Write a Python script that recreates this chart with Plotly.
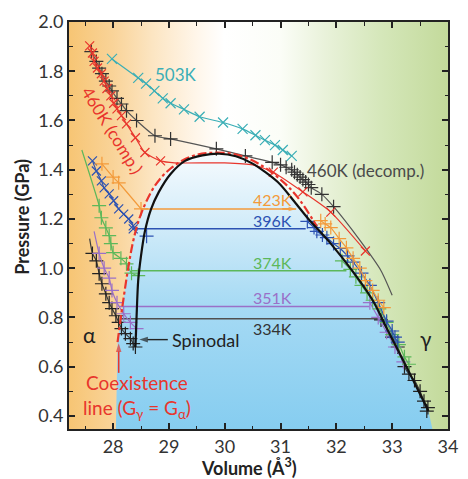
import plotly.graph_objects as go

# ---- axes ----
x_range = [27.21, 34.0]
y_range = [0.347, 2.0]
x_ticks = [28, 29, 30, 31, 32, 33, 34]
y_ticks = [0.4, 0.6, 0.8, 1.0, 1.2, 1.4, 1.6, 1.8, 2.0]

# ---- spinodal dome ----
v_spin = [28.40, 28.42, 28.45, 28.50, 28.57, 28.68, 28.82, 29.03, 29.29, 29.60, 29.90,
          30.20, 30.50, 30.95, 31.25, 31.50, 31.90, 32.30, 32.65, 32.95, 33.30, 33.65]
p_spin = [0.68, 0.80, 0.95, 1.05, 1.15, 1.24, 1.31, 1.383, 1.436, 1.458, 1.465,
          1.455, 1.425, 1.35, 1.27, 1.20, 1.10, 0.985, 0.87, 0.735, 0.58, 0.42]

# ---- coexistence line ----
v_coex = [28.08, 28.17, 28.27, 28.37, 28.50, 28.75, 29.03, 29.38, 29.70, 30.20, 30.60, 31.00, 31.30, 31.65]
p_coex = [0.70, 0.85, 1.00, 1.12, 1.22, 1.335, 1.405, 1.452, 1.468, 1.462, 1.425, 1.36, 1.29, 1.17]

# ---- isotherms ----
v_503 = [27.98, 28.45, 28.59, 28.74, 28.89, 29.03, 29.27, 29.55, 29.97, 30.32, 30.55, 30.72, 30.90, 31.04, 31.20]
p_503 = [1.85, 1.773, 1.75, 1.72, 1.69, 1.67, 1.645, 1.615, 1.592, 1.566, 1.54, 1.52, 1.50, 1.48, 1.456]

v_460c = [27.58, 27.63, 27.66, 27.72, 27.79, 27.84, 27.89, 27.96, 28.01, 28.07, 28.15, 28.24,
          28.40, 28.57, 28.85, 30.87, 31.40, 31.90, 32.52]
p_460c = [1.903, 1.874, 1.84, 1.813, 1.79, 1.76, 1.73, 1.70, 1.67, 1.647, 1.62, 1.586,
          1.53, 1.47, 1.436, 1.39, 1.31, 1.228, 1.07]
v_460c_plateau = [29.10, 30.00, 30.50]
p_460c_plateau = [1.428, 1.428, 1.42]

v_460d = [27.61, 27.70, 27.75, 27.80, 27.87, 27.93, 27.98, 28.07, 28.15, 28.24, 28.42, 28.75,
          29.03, 29.85, 30.37, 30.85, 31.00, 31.10, 31.20, 31.25, 31.30, 31.35, 31.40, 31.45,
          31.50, 31.55, 31.74, 31.95]
p_460d = [1.88, 1.84, 1.813, 1.79, 1.76, 1.74, 1.72, 1.69, 1.667, 1.64, 1.60, 1.538,
          1.525, 1.485, 1.456, 1.43, 1.42, 1.41, 1.40, 1.39, 1.38, 1.37, 1.36, 1.35,
          1.34, 1.327, 1.30, 1.25]
v_460d_tail = [32.40, 32.80, 33.00]
p_460d_tail = [1.12, 0.99, 0.89]

v_423 = [27.80, 28.00, 28.10, 31.72, 31.80, 31.90, 32.05, 32.18, 32.30, 32.42, 32.52, 32.65, 32.75, 32.85]
p_423 = [1.424, 1.37, 1.347, 1.193, 1.18, 1.165, 1.12, 1.083, 1.04, 1.00, 0.95, 0.91, 0.87, 0.84]

v_396 = [27.63, 27.70, 27.79, 27.84, 27.93, 28.01, 28.10, 28.19, 28.28, 28.36,
         31.48, 31.60, 31.65, 31.75, 31.83, 31.95, 32.07, 32.20, 32.30, 32.45, 32.60, 32.75, 32.90, 33.00, 33.05, 33.10]
p_396 = [1.436, 1.395, 1.355, 1.326, 1.302, 1.274, 1.241, 1.22, 1.20, 1.172,
         1.19, 1.165, 1.15, 1.135, 1.124, 1.10, 1.08, 1.05, 1.025, 0.98, 0.93, 0.86, 0.785, 0.745, 0.72, 0.70]
v_396_extra = [28.60]
p_396_extra = [1.13]

v_374 = [27.75, 27.79, 27.87, 27.93, 27.96, 28.00, 28.14, 28.24, 28.33, 28.45,
         32.10, 32.25, 32.35, 32.45, 32.55, 32.65, 32.77, 32.90, 33.00, 33.12, 33.22, 33.30]
p_374 = [1.254, 1.205, 1.164, 1.132, 1.10, 1.063, 1.04, 1.018, 0.98, 0.97,
         1.03, 0.995, 0.965, 0.93, 0.90, 0.87, 0.835, 0.78, 0.73, 0.69, 0.64, 0.61]
v_374_top = [27.44]
p_374_top = [1.48]

v_351 = [27.75, 27.84, 27.93, 27.98, 28.07, 28.19, 28.31, 28.42,
         32.60, 32.75, 32.90, 33.05, 33.20]
p_351 = [1.06, 1.00, 0.96, 0.91, 0.86, 0.815, 0.78, 0.755,
         0.86, 0.80, 0.74, 0.68, 0.62]
v_351_top = [27.66]
p_351_top = [1.15]

v_334 = [27.63, 27.70, 27.75, 27.80, 27.87, 27.93, 27.98, 28.05, 28.10, 28.15, 28.22, 28.31, 28.36, 28.40,
         32.80, 33.00, 33.10, 33.22, 33.30, 33.40, 33.50, 33.57, 33.64, 33.62]
p_334 = [1.06, 1.03, 0.978, 0.937, 0.896, 0.86, 0.836, 0.807, 0.78, 0.755, 0.734, 0.714, 0.694, 0.68,
         0.79, 0.72, 0.68, 0.60, 0.57, 0.544, 0.50, 0.46, 0.434, 0.42]
v_334_top = [27.58]
p_334_top = [1.12]

# ---- tie lines: pressure, left volume, right volume ----
tie_T = ["423K", "396K", "374K", "351K", "334K"]
tie_p = [1.241, 1.16, 0.99, 0.845, 0.795]
tie_v0 = [28.50, 28.36, 28.33, 28.10, 28.14]
tie_v1 = [31.28, 31.45, 32.18, 32.59, 32.77]

# ---- pointer arrows (tail, head) ----
spinodal_arrow_v = [28.98, 28.47]
spinodal_arrow_p = [0.71, 0.71]
coex_arrow_v = [28.10, 28.10]
coex_arrow_p = [0.575, 0.695]

# ---- colours ----
c_teal = "#3aaeb6"
c_red = "#e8352c"
c_dark = "#3c3c3c"
c_orange = "#f39a3a"
c_blue = "#2c52b2"
c_green = "#5cb85a"
c_purple = "#9a70c8"
tie_colors = [c_orange, c_blue, c_green, c_purple, "#505050"]

fig = go.Figure()

# background: orange (alpha) -> white -> green (gamma)
fig.add_trace(go.Scatter(
    x=[x_range[0], x_range[1], x_range[1], x_range[0], x_range[0]],
    y=[y_range[0], y_range[0], y_range[1], y_range[1], y_range[0]],
    mode="lines", line=dict(width=0), fill="toself",
    fillgradient=dict(type="horizontal", colorscale=[
        [0.0, "#f7c574"], [0.116, "#f9d398"], [0.22, "#fce5c2"], [0.337, "#fff6ea"],
        [0.41, "#ffffff"], [0.558, "#fbfdf7"], [0.676, "#e9f2da"], [0.823, "#d5e7ba"],
        [1.0, "#c3da9b"]]),
    hoverinfo="skip", showlegend=False))

# two-phase region under the dome
blue_v = [28.05] + v_coex[:9] + v_spin[10:] + [33.72, 28.05]
blue_p = [y_range[0]] + p_coex[:9] + p_spin[10:] + [y_range[0], y_range[0]]
fig.add_trace(go.Scatter(
    x=blue_v, y=blue_p, mode="lines", line=dict(width=0), fill="toself",
    fillgradient=dict(type="vertical", colorscale=[
        [0.0, "#86cdf0"], [0.45, "#a6daf4"], [0.75, "#d3ecf9"], [1.0, "#f6fbfe"]]),
    hoverinfo="skip", showlegend=False))

# tie lines
for p, v0, v1, c in zip(tie_p, tie_v0, tie_v1, tie_colors):
    fig.add_trace(go.Scatter(x=[v0, v1], y=[p, p], mode="lines",
                             line=dict(color=c, width=1.5), showlegend=False))


def iso(v, p, color, symbol="cross-thin", size=10, width=1.2, line=True):
    fig.add_trace(go.Scatter(
        x=v, y=p, mode="lines+markers" if line else "markers",
        line=dict(color=color, width=1.2, shape="spline", smoothing=0.6),
        marker=dict(symbol=symbol, size=size, color=color, line=dict(color=color, width=width)),
        showlegend=False))


def seg(v, p, color, width=1.2):
    fig.add_trace(go.Scatter(x=v, y=p, mode="lines",
                             line=dict(color=color, width=width, shape="spline", smoothing=0.6),
                             showlegend=False))


def arrow(v, p, color, width=1.5, size=9):
    fig.add_trace(go.Scatter(
        x=v, y=p, mode="lines+markers", line=dict(color=color, width=width),
        marker=dict(symbol="arrow", size=[0, size], angleref="previous", color=color,
                    line=dict(width=0)),
        hoverinfo="skip", showlegend=False))


# low-temperature isotherms: compression branch and gamma branch
n334, n351, n374, n396, n423 = 14, 8, 10, 10, 3
seg(v_334_top + v_334[:n334], p_334_top + p_334[:n334], c_dark)
iso(v_334[:n334], p_334[:n334], "#222222", line=False)
seg(v_334[n334:], p_334[n334:], c_dark)
iso(v_334[n334:], p_334[n334:], "#222222", line=False)

seg(v_351_top + v_351[:n351], p_351_top + p_351[:n351], c_purple)
iso(v_351[:n351], p_351[:n351], c_purple, line=False)
iso(v_351[n351:], p_351[n351:], c_purple)

seg(v_374_top + v_374[:n374], p_374_top + p_374[:n374], c_green)
iso(v_374[:n374], p_374[:n374], c_green, line=False)
iso(v_374[n374:], p_374[n374:], c_green)

iso(v_396[:n396] + [tie_v0[1]], p_396[:n396] + [tie_p[1]], c_blue, symbol="x-thin", size=9)
iso(v_396[n396:], p_396[n396:], c_blue)
iso(v_396_extra, p_396_extra, c_blue, line=False)

iso(v_423[:n423] + [tie_v0[0]], p_423[:n423] + [tie_p[0]], c_orange)
iso(v_423[n423:], p_423[n423:], c_orange)
arrow([tie_v1[0] - 0.25, tie_v1[0]], [tie_p[0], tie_p[0]], c_orange, size=8)

# 460 K decompression and compression, 503 K
seg(v_460d + v_460d_tail, p_460d + p_460d_tail, "#555555")
iso(v_460d, p_460d, "#333333", line=False)

n460 = 15
seg(v_460c[:n460] + v_460c_plateau + v_460c[n460:], p_460c[:n460] + p_460c_plateau + p_460c[n460:], c_red)
iso(v_460c, p_460c, c_red, symbol="x-thin", size=9, line=False)

iso(v_503, p_503, c_teal, symbol="x-thin", size=10)

# coexistence line and spinodal
fig.add_trace(go.Scatter(x=v_coex, y=p_coex, mode="lines",
                         line=dict(color=c_red, width=2.2, dash="dashdot", shape="spline"),
                         showlegend=False))
fig.add_trace(go.Scatter(x=v_spin, y=p_spin, mode="lines",
                         line=dict(color="#111111", width=2.2, shape="spline", smoothing=0.8),
                         showlegend=False))

arrow(spinodal_arrow_v, spinodal_arrow_p, "#222222", width=1.4, size=9)
arrow(coex_arrow_v, coex_arrow_p, c_red, width=1.6, size=9)

font = "Lato, Arial, sans-serif"


def label(x, y, text, color, size=16, angle=0, xref="x", yref="y"):
    fig.add_annotation(x=x, y=y, text=text, showarrow=False, textangle=angle, xref=xref, yref=yref,
                       xanchor="center", yanchor="middle",
                       font=dict(family=font, size=size, color=color))


label(29.12, 1.785, "503K", c_teal, size=17)
label(27.99, 1.56, "460K (comp.)", c_red, size=17, angle=58)
label(32.52, 1.395, "460K (decomp.)", "#4a4a4a", size=17)
label(30.85, 1.278, "423K", c_orange)
label(30.86, 1.193, "396K", c_blue)
label(30.85, 1.022, "374K", c_green)
label(30.85, 0.88, "351K", c_purple)
label(30.86, 0.755, "334K", "#333333")
label(27.58, 0.73, "α", "#222222", size=21)
label(33.61, 0.714, "γ", "#222222", size=21)
label(29.66, 0.71, "Spinodal", "#222222", size=18)
fig.add_annotation(x=28.42, y=0.478, text="Coexistence<br>line (G<sub>γ</sub> = G<sub>α</sub>)",
                   showarrow=False, align="center", xanchor="center", yanchor="middle",
                   font=dict(family=font, size=19, color=c_red))

# axis titles
label(0.476, -0.094, "<b>Volume (Å<sup>3</sup>)</b>", "#222222", size=18, xref="paper", yref="paper")
label(-0.126, 0.522, "<b>Pressure (GPa)</b>", "#222222", size=18, angle=-90, xref="paper", yref="paper")

axis_common = dict(showline=True, linecolor="#222222", linewidth=2, mirror="ticks",
                   ticks="inside", ticklen=6, tickwidth=1.5, tickcolor="#222222",
                   showgrid=False, zeroline=False,
                   tickfont=dict(family=font, size=18, color="#333333"))

fig.update_xaxes(range=x_range, tickvals=x_ticks, ticktext=[str(t) for t in x_ticks],
                 minor=dict(ticks="inside", dtick=0.5, ticklen=3.5, tickwidth=1.2, tickcolor="#222222"),
                 **axis_common)
fig.update_yaxes(range=y_range, tickvals=y_ticks, ticktext=[f"{t:.1f}" for t in y_ticks],
                 minor=dict(ticks="inside", dtick=0.1, ticklen=3.5, tickwidth=1.2, tickcolor="#222222"),
                 **axis_common)

fig.update_layout(width=468, height=479, margin=dict(l=69, r=10, t=21, b=50),
                  paper_bgcolor="white", plot_bgcolor="white", showlegend=False)

fig.write_html("out.html")
